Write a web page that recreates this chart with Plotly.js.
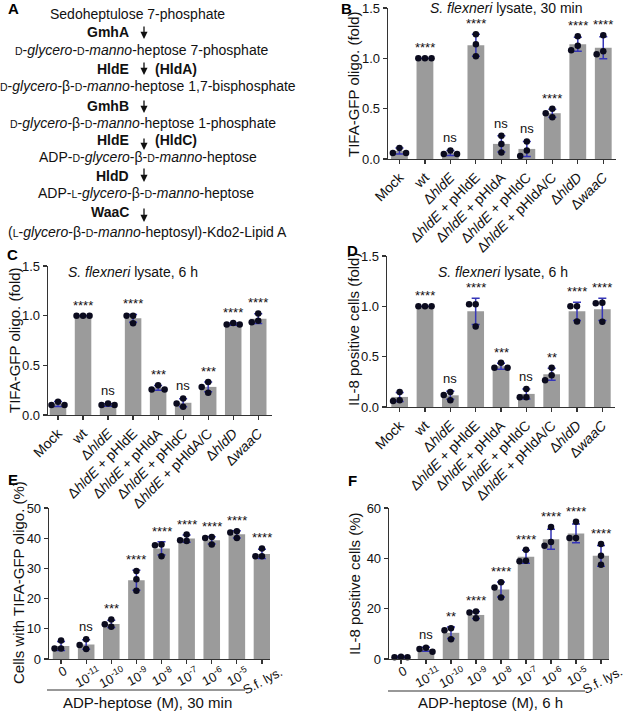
<!DOCTYPE html>
<html>
<head>
<meta charset="utf-8">
<script src="https://cdn.plot.ly/plotly-3.0.1.min.js"></script>
<style>html,body{margin:0;padding:0;background:#fff}#chart{width:624px;height:711px}</style>
</head>
<body>
<div id="chart"></div>
<script>
// ---------- DATA ----------
const strainLabels = ['Mock','wt','Δ<i>hldE</i>','Δ<i>hldE</i> + pHldE','Δ<i>hldE</i> + pHldA','Δ<i>hldE</i> + pHldC','Δ<i>hldE</i> + pHldA/C','Δ<i>hldD</i>','Δ<i>waaC</i>'];
const doseLabels = ['0','10<sup>-11</sup>','10<sup>-10</sup>','10<sup>-9</sup>','10<sup>-8</sup>','10<sup>-7</sup>','10<sup>-6</sup>','10<sup>-5</sup>','S.f. lys.'];

// Panel B: TIFA-GFP oligo (fold), 30 min
const B_bar = [0.08, 1.0, 0.06, 1.13, 0.15, 0.10, 0.455, 1.14, 1.105];
const B_err = [0.03, 0, 0.025, 0.11, 0.08, 0.075, 0.04, 0.07, 0.11];
const B_pts = [[0.11,0.06,0.06],[1,1,1],[0.085,0.05,0.05],[1.24,1.14,1.02],[0.23,0.15,0.065],[0.175,0.085,0.03],[0.50,0.455,0.415],[1.22,1.125,1.08],[1.23,1.07,1.04]];
const B_sig = ['','****','ns','****','ns','ns','****','****','****'];

// Panel C: TIFA-GFP oligo (fold), 6 h
const C_bar = [0.11, 1.0, 0.10, 0.973, 0.273, 0.123, 0.283, 0.915, 0.97];
const C_err = [0.025, 0, 0.012, 0.04, 0.025, 0.04, 0.05, 0.012, 0.05];
const C_pts = [[0.133,0.10,0.10],[1,1,1],[0.117,0.10,0.10],[1.0,1.0,0.923],[0.30,0.257,0.257],[0.167,0.117,0.083],[0.333,0.283,0.223],[0.925,0.91,0.91],[1.023,0.95,0.933]];
const C_sig = ['','****','ns','****','***','ns','***','****','****'];

// Panel D: IL-8 positive cells (fold), 6 h
const D_bar = [0.10, 1.0, 0.116, 0.95, 0.405, 0.13, 0.325, 0.95, 0.97];
const D_err = [0.045, 0, 0.04, 0.13, 0.03, 0.05, 0.06, 0.09, 0.11];
const D_pts = [[0.15,0.066,0.06],[1,1,1],[0.15,0.12,0.066],[1.02,1.02,0.80],[0.44,0.39,0.39],[0.18,0.096,0.096],[0.39,0.315,0.265],[1.0,1.0,0.85],[1.035,1.03,0.846]];
const D_sig = ['','****','ns','****','***','ns','**','****','****'];

// Panel E: cells with TIFA-GFP oligo (%), 30 min
const E_bar = [4.3, 4.8, 11.6, 26.1, 36.6, 39.9, 39.3, 41.3, 34.8];
const E_err = [1.5, 1.6, 1.2, 3.3, 2.2, 1.2, 1.2, 1.2, 1.5];
const E_pts = [[6.1,3.5,3.5],[6.5,4.6,3.3],[13.1,11.5,10.7],[29.1,26.4,22.6],[37.9,37.7,34.0],[41.2,39.3,39.1],[40.4,40.1,37.9],[42.3,41.9,40.1],[36.6,34.0,34.0]];
const E_sig = ['','ns','***','****','****','****','****','****','****'];

// Panel F: IL-8 positive cells (%), 6 h
const F_bar = [0.8, 3.85, 10.4, 17.5, 27.6, 40.6, 47.6, 49.9, 41.0];
const F_err = [0.3, 0.8, 2.3, 1.4, 3.0, 2.6, 4.0, 3.7, 4.1];
const F_pts = [[0.9,0.7,0.7],[4.5,4.0,2.9],[12.2,11.4,7.8],[18.9,18.5,16.2],[30.5,28.4,24.4],[43.4,39.0,38.8],[52.5,46.5,45.0],[54.5,48.1,48.1],[45.7,41.0,37.5]];
const F_sig = ['','ns','**','****','****','****','****','****','****'];

// ---------- LAYOUT HELPERS ----------
const W = 624, H = 711;
const FONT = 'Liberation Sans, Arial, sans-serif';
const px = v => v / W;
const py = v => 1 - v / H;
const BAR = '#9b9b9b', ERR = '#3636b8', AX = '#333333';

const panels = [
  {bar:B_bar, err:B_err, pts:B_pts, sig:B_sig, cats:strainLabels, x0:388, x1:616, yTop:8,   yBot:159, xr:[-0.45,8.5], yr:[0,1.5], dtick:0.5, fmt:'.1f', angle:-45},
  {bar:C_bar, err:C_err, pts:C_pts, sig:C_sig, cats:strainLabels, x0:48,  x1:272, yTop:266, yBot:415, xr:[-0.4,8.55], yr:[0,1.5], dtick:0.5, fmt:'.1f', angle:-45},
  {bar:D_bar, err:D_err, pts:D_pts, sig:D_sig, cats:strainLabels, x0:387, x1:615, yTop:256, yBot:407, xr:[-0.5,8.5], yr:[0,1.5], dtick:0.5, fmt:'.1f', angle:-45},
  {bar:E_bar, err:E_err, pts:E_pts, sig:E_sig, cats:doseLabels,   x0:49,  x1:270, yTop:508, yBot:659, xr:[-0.48,8.32], yr:[0,50], dtick:10, fmt:'d', angle:-28, centered:true},
  {bar:F_bar, err:F_err, pts:F_pts, sig:F_sig, cats:doseLabels,   x0:389, x1:609, yTop:508, yBot:659, xr:[-0.48,8.32], yr:[0,60], dtick:20, fmt:'d', angle:-28, centered:true},
];

function swarm(vals, pxx, pxy) {
  const d = 0.26, offs = vals.map(() => 0), placed = [];
  const order = vals.map((v, i) => i).sort((a, b) => vals[b] - vals[a]);
  for (const i of order) {
    for (const c of [0, -d, d, -2 * d, 2 * d]) {
      const ok = placed.every(j => Math.hypot((offs[j] - c) * pxx, (vals[j] - vals[i]) * pxy) >= 6);
      if (ok) { offs[i] = c; placed.push(i); break; }
    }
  }
  return offs;
}

const traces = [], annotations = [], shapes = [];
const layout = {
  width: W, height: H, margin: {l:0, r:0, t:0, b:0},
  paper_bgcolor: '#fff', plot_bgcolor: '#fff', showlegend: false,
  font: {family: FONT, color: '#111', size: 13}
};

panels.forEach((p, k) => {
  const n = k === 0 ? '' : String(k + 1);
  const xa = 'x' + n, ya = 'y' + n;
  const pxx = (p.x1 - p.x0) / (p.xr[1] - p.xr[0]);
  const pxy = (p.yBot - p.yTop) / (p.yr[1] - p.yr[0]);
  const idx = p.bar.map((v, i) => i);
  layout['xaxis' + n] = {
    domain: [px(p.x0), px(p.x1)], anchor: ya, range: p.xr, tickmode: 'array',
    tickvals: idx, ticktext: p.cats, tickangle: p.angle, showticklabels: !p.centered,
    showgrid: false, zeroline: false,
    showline: true, linecolor: AX, linewidth: 1.3, ticks: 'outside', ticklen: 3.5, tickwidth: 1.2, tickcolor: AX,
    tickfont: {size: 14, family: FONT, color: '#111'}, fixedrange: true
  };
  layout['yaxis' + n] = {
    domain: [py(p.yBot), py(p.yTop)], anchor: xa, range: p.yr, dtick: p.dtick, tickformat: p.fmt,
    showgrid: false, zeroline: false, showline: true, linecolor: AX, linewidth: 1.3,
    ticks: 'outside', ticklen: 4, tickwidth: 1.2, tickcolor: AX,
    tickfont: {size: 13, family: FONT, color: '#111'}, fixedrange: true
  };
  traces.push({
    type: 'bar', x: idx, y: p.bar, xaxis: xa, yaxis: ya, width: 0.66,
    marker: {color: BAR, line: {width: 0}},
    error_y: {type: 'data', array: p.err, visible: true, color: ERR, thickness: 1.5, width: 4},
    hoverinfo: 'skip'
  });
  const sx = [], sy = [];
  p.pts.forEach((vals, i) => {
    const offs = swarm(vals, pxx, pxy);
    vals.forEach((v, j) => { sx.push(i + offs[j]); sy.push(v); });
  });
  traces.push({
    type: 'scatter', mode: 'markers', x: sx, y: sy, xaxis: xa, yaxis: ya, cliponaxis: false,
    marker: {color: '#0b0b1e', size: 6.5, line: {width: 0}}, hoverinfo: 'skip'
  });
  p.sig.forEach((s, i) => {
    if (!s) return;
    const top = Math.max(p.bar[i] + p.err[i], ...p.pts[i]);
    annotations.push({
      xref: xa, yref: ya, x: i, y: top, text: s, showarrow: false, yanchor: 'bottom',
      yshift: s === 'ns' ? 3 : 1, font: {size: 13, family: FONT, color: '#111'}
    });
  });
  // GraphPad-style centred, slanted category labels (E, F)
  if (p.centered) {
    p.cats.forEach((c, i) => {
      annotations.push({
        xref: xa, yref: 'paper', x: i, y: py(p.yBot + 3), text: c, showarrow: false,
        textangle: p.angle, xanchor: 'center', yanchor: 'top', borderpad: 0, xshift: 1,
        font: {size: 13, family: FONT, color: '#111'}
      });
    });
  }
});

// Paper-space text helper
function txt(text, x, y, opts) {
  annotations.push(Object.assign({
    xref: 'paper', yref: 'paper', x: px(x), y: py(y), text: text, showarrow: false,
    xanchor: 'center', yanchor: 'middle', font: {size: 14, family: FONT, color: '#111'}
  }, opts || {}));
}

// Panel letters
[['A',13,9],['B',346,9],['C',12,254],['D',352,250],['E',13,479],['F',352,480]].forEach(([t,x,y]) =>
  txt('<b>' + t + '</b>', x, y, {font: {size: 15, family: FONT, color: '#000'}}));

// Panel titles
txt('<i>S. flexneri</i> lysate, 30 min', 506, 8);
txt('<i>S. flexneri</i> lysate, 6 h', 133, 272);
txt('<i>S. flexneri</i> lysate, 6 h', 503, 272);

// Y-axis titles
const yt = {textangle: -90, font: {size: 15, family: FONT, color: '#111'}};
txt('TIFA-GFP oligo. (fold)', 353, 84, yt);
txt('TIFA-GFP oligo. (fold)', 14, 340, yt);
txt('IL-8 positive cells (fold)', 353, 330, yt);
txt('Cells with TIFA-GFP oligo. (%)', 18, 583, yt);
txt('IL-8 positive cells (%)', 354, 584, yt);

// X-axis group titles with underline
txt('ADP-heptose (M), 30 min', 147, 702, {font: {size: 15, family: FONT, color: '#111'}});
txt('ADP-heptose (M), 6 h', 490, 702, {font: {size: 15, family: FONT, color: '#111'}});
shapes.push({type:'line', xref:'paper', yref:'paper', x0:px(47), x1:px(245), y0:py(690), y1:py(690), line:{color:AX, width:1.2}});
shapes.push({type:'line', xref:'paper', yref:'paper', x0:px(388), x1:px(585), y0:py(691), y1:py(691), line:{color:AX, width:1.2}});

// Panel A: pathway
const sc = t => '<span style="font-size:10.5px">' + t + '</span>';
const pathLines = [
  ['Sedoheptulose 7-phosphate', 137, 14],
  [sc('D') + '-<i>glycero</i>-' + sc('D') + '-<i>manno</i>-heptose 7-phosphate', 142, 50],
  [sc('D') + '-<i>glycero</i>-β-' + sc('D') + '-<i>manno</i>-heptose 1,7-bisphosphate', 148, 86],
  [sc('D') + '-<i>glycero</i>-β-' + sc('D') + '-<i>manno</i>-heptose 1-phosphate', 143, 123],
  ['ADP-' + sc('D') + '-<i>glycero</i>-β-' + sc('D') + '-<i>manno</i>-heptose', 148, 157],
  ['ADP-' + sc('L') + '-<i>glycero</i>-β-' + sc('D') + '-<i>manno</i>-heptose', 146, 193],
  ['(' + sc('L') + '-<i>glycero</i>-β-' + sc('D') + '-<i>manno</i>-heptosyl)-Kdo2-Lipid A', 147, 232]
];
pathLines.forEach(([t, x, y]) => txt(t, x, y, {font: {size: 14, family: FONT, color: '#111'}}));
const enzymes = [['GmhA', 32, ''], ['HldE', 69, '(HldA)'], ['GmhB', 106, ''], ['HldE', 140, '(HldC)'], ['HldD', 176, ''], ['WaaC', 212, '']];
const arrows = [[25, 39], [61, 75], [99, 113], [137, 150], [167, 182], [207, 222]];
enzymes.forEach(([e, y, extra], i) => {
  txt('<b>' + e + '</b>', 131, y, {xanchor: 'right', font: {size: 14, family: FONT, color: '#111'}});
  if (extra) txt('<b>' + extra + '</b>', 153, y, {xanchor: 'left', font: {size: 14, family: FONT, color: '#111'}});
  const [a0, a1] = arrows[i];
  annotations.push({xref: 'paper', yref: 'paper', x: px(144), y: py(a1), ax: 0, ay: -(a1 - a0),
    text: '', showarrow: true, arrowhead: 2, arrowsize: 1.1, arrowwidth: 1.3, arrowcolor: '#111'});
});

layout.annotations = annotations;
layout.shapes = shapes;
Plotly.newPlot('chart', traces, layout, {staticPlot: true, displayModeBar: false});
</script>
</body>
</html>
